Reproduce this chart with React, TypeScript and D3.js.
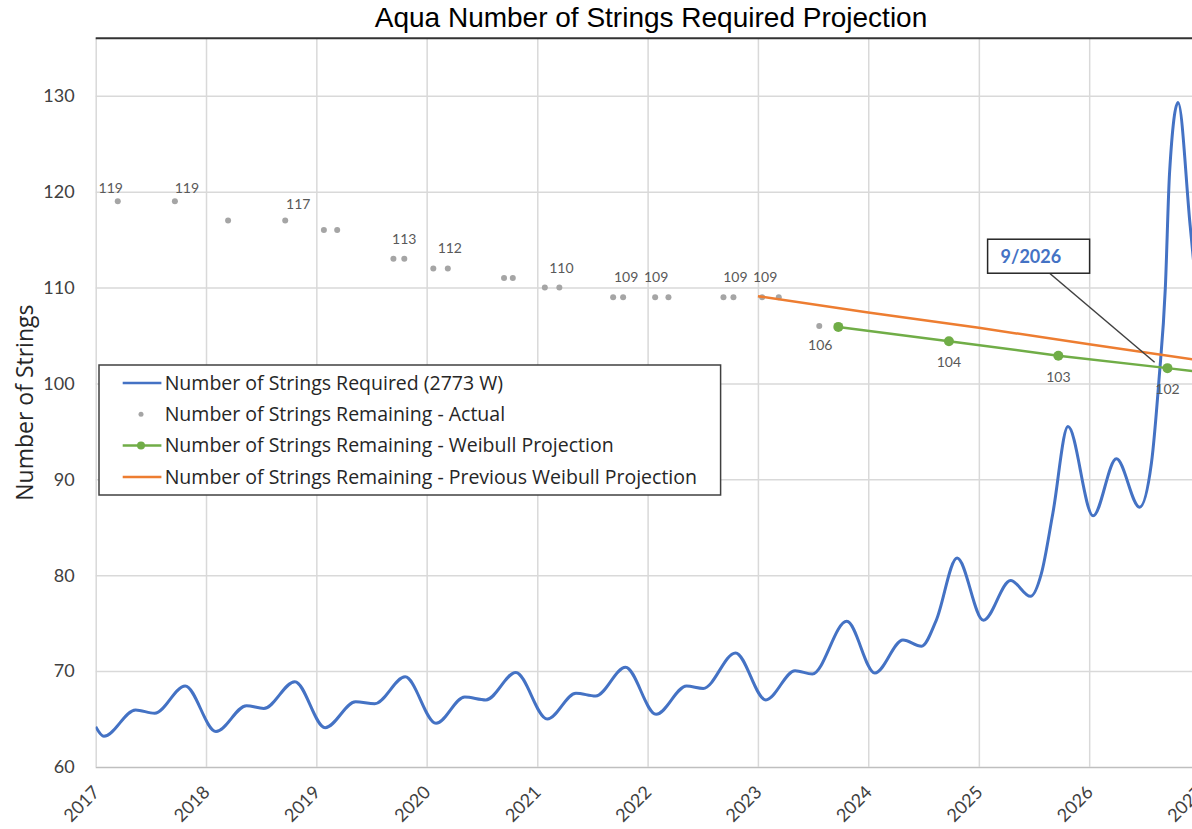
import { useRef, useEffect } from "react";
import * as d3 from "d3";

const WIDTH = 1192;
const HEIGHT = 829;

// Number of Strings Required (2773 W): turning points of the smoothed curve
const requiredDates = [
  "2017-01-01", "2017-01-28", "2017-05-13", "2017-07-15", "2017-10-24",
  "2018-02-03", "2018-05-15", "2018-07-11", "2018-10-22",
  "2019-01-30", "2019-05-11", "2019-07-13", "2019-10-22",
  "2020-02-01", "2020-05-06", "2020-07-15", "2020-10-22",
  "2021-02-03", "2021-05-09", "2021-07-13", "2021-10-20",
  "2022-01-29", "2022-05-10", "2022-07-04", "2022-10-19",
  "2023-01-27", "2023-05-04", "2023-06-30", "2023-10-22",
  "2024-01-23", "2024-04-25", "2024-06-25", "2024-08-13", "2024-10-21",
  "2025-01-16", "2025-04-16", "2025-06-21", "2025-07-27", "2025-09-03", "2025-10-23",
  "2026-01-14", "2026-04-01", "2026-06-17", "2026-07-26", "2026-08-20",
  "2026-09-10", "2026-09-24", "2026-10-22", "2026-12-01", "2027-01-20",
];
const requiredValues = [
  64.2, 63.2, 65.95, 65.6, 68.45,
  63.7, 66.4, 66.1, 68.9,
  64.1, 66.8, 66.6, 69.4,
  64.55, 67.3, 67.0, 69.85,
  65.0, 67.7, 67.4, 70.4,
  65.5, 68.45, 68.2, 71.9,
  67.0, 70.05, 69.7, 75.2,
  69.8, 73.25, 72.6, 75.3, 81.8,
  75.3, 79.45, 77.8, 80.2, 86.5, 95.5,
  86.2, 92.15, 87.1, 91.7, 100.4,
  110, 122, 129.3, 116.5, 100,
];

// Number of Strings Remaining - Actual
const actualDates = [
  "2017-03-15", "2017-09-20", "2018-03-15", "2018-09-20",
  "2019-01-26", "2019-03-11", "2019-09-13", "2019-10-19",
  "2020-01-23", "2020-03-11", "2020-09-13", "2020-10-12",
  "2021-01-26", "2021-03-15", "2021-09-09", "2021-10-12",
  "2022-01-26", "2022-03-11", "2022-09-09", "2022-10-12",
  "2023-01-15", "2023-03-11", "2023-07-23",
];
const actualValues = [
  119, 119, 117, 117,
  116, 116, 113, 113,
  112, 112, 111, 111,
  110, 110, 109, 109,
  109, 109, 109, 109,
  109, 109, 106,
];
// which actual points carry a data label, and where it sits (dx, dy)
const actualLabelIndex = [0, 1, 3, 7, 9, 13, 15, 16, 19, 20, 22];
const actualLabelOffset = [
  [-7, -13], [12, -13], [13, -16], [0, -20], [2, -20], [2, -19],
  [3, -20], [1, -20], [2, -20], [3, -20], [1, 19],
];

// Number of Strings Remaining - Weibull Projection
const weibullDates = ["2023-09-24", "2024-09-24", "2025-09-21", "2026-09-17", "2027-09-15"];
const weibullValues = [105.9, 104.4, 102.9, 101.6, 100.3];
const weibullLabelIndex = [1, 2, 3];

// Number of Strings Remaining - Previous Weibull Projection
const previousDates = ["2023-01-01", "2024-01-01", "2025-01-01", "2026-01-01", "2027-01-01"];
const previousValues = [109.1, 107.4, 105.8, 104.1, 102.4];

const yearTicks = ["2017", "2018", "2019", "2020", "2021", "2022", "2023", "2024", "2025", "2026", "2027"];
const yTicks = [60, 70, 80, 90, 100, 110, 120, 130];

const legendLabels = [
  "Number of Strings Required (2773 W)",
  "Number of Strings Remaining - Actual",
  "Number of Strings Remaining - Weibull Projection",
  "Number of Strings Remaining - Previous Weibull Projection",
];

const callout = { date: "2026-08-22", value: 101.8, text: "9/2026" };

const BLUE = "#4472c4";
const GRAY = "#a5a5a5";
const GREEN = "#70ad47";
const ORANGE = "#ed7d31";
const FONT = "Lato, 'Open Sans', sans-serif";
const WIDE_FONT = "'Open Sans', Lato, sans-serif";

type Pt = { date: Date; value: number };

export default function App() {
  const ref = useRef<SVGSVGElement | null>(null);

  useEffect(() => {
    if (!ref.current) return;
    const svg = d3.select(ref.current);
    svg.selectAll("*").remove();

    const parse = d3.timeParse("%Y-%m-%d");
    const left = 95.7;
    const x = d3
      .scaleTime()
      .domain([parse("2017-01-01")!, parse("2027-01-01")!])
      .range([left, 1199.5]);
    const y = d3.scaleLinear().domain([60, 136]).range([767, 38.3]);
    const top = y(136);
    const bottom = y(60);
    const line = d3
      .line<Pt>()
      .x((d) => x(d.date))
      .y((d) => y(d.value));

    svg.append("rect").attr("width", WIDTH).attr("height", HEIGHT).attr("fill", "#fff");

    svg
      .append("defs")
      .append("clipPath")
      .attr("id", "plot-clip")
      .append("rect")
      .attr("x", left)
      .attr("y", top - 2)
      .attr("width", WIDTH - left)
      .attr("height", bottom - top + 4);

    // title
    svg
      .append("text")
      .attr("x", 651)
      .attr("y", 26.5)
      .attr("text-anchor", "middle")
      .attr("font-family", "'Liberation Sans', Arial, sans-serif")
      .attr("font-size", 28)
      .attr("fill", "#000")
      .text("Aqua Number of Strings Required Projection");

    // y axis + horizontal grid
    svg
      .append("g")
      .attr("transform", `translate(${left},0)`)
      .call(d3.axisLeft(y).tickValues(yTicks).tickSize(-(WIDTH - left)).tickPadding(21))
      .call((g) => g.select(".domain").remove())
      .call((g) =>
        g
          .selectAll(".tick line")
          .attr("stroke", (d) => (d === 60 ? "#bfbfbf" : "#d9d9d9"))
          .attr("stroke-width", 1.5)
      )
      .call((g) =>
        g
          .selectAll(".tick text")
          .attr("font-family", FONT)
          .attr("font-size", 18)
          .attr("fill", "#404040")
      );

    // x axis + vertical grid
    const years = yearTicks.map((t) => parse(`${t}-01-01`)!);
    svg
      .append("g")
      .attr("transform", `translate(0,${bottom})`)
      .call(
        d3
          .axisBottom(x)
          .tickValues(years)
          .tickSize(-(bottom - top))
          .tickFormat((d) => d3.timeFormat("%Y")(d as Date))
      )
      .call((g) => g.select(".domain").remove())
      .call((g) => g.selectAll(".tick line").attr("stroke", "#d9d9d9").attr("stroke-width", 1.5))
      .call((g) =>
        g
          .selectAll(".tick text")
          .attr("x", 0)
          .attr("y", 0)
          .attr("dy", "0.35em")
          .attr("text-anchor", "end")
          .attr("transform", "translate(0,22) rotate(-45)")
          .attr("font-family", FONT)
          .attr("font-size", 18)
          .attr("fill", "#404040")
      );

    // top border of the plot
    svg
      .append("line")
      .attr("x1", left)
      .attr("x2", WIDTH)
      .attr("y1", top)
      .attr("y2", top)
      .attr("stroke", "#333")
      .attr("stroke-width", 2);

    // y axis title
    svg
      .append("text")
      .attr("transform", `translate(33,${(top + bottom) / 2}) rotate(-90)`)
      .attr("text-anchor", "middle")
      .attr("font-family", WIDE_FONT)
      .attr("font-size", 23)
      .attr("fill", "#262626")
      .text("Number of Strings");

    const plot = svg.append("g").attr("clip-path", "url(#plot-clip)");

    // required strings
    const required: Pt[] = requiredDates.map((d, i) => ({ date: parse(d)!, value: requiredValues[i] }));
    plot
      .append("path")
      .attr("fill", "none")
      .attr("stroke", BLUE)
      .attr("stroke-width", 3)
      .attr("d", line.curve(d3.curveMonotoneX)(required));
    line.curve(d3.curveLinear);

    // actual remaining
    const actual: Pt[] = actualDates.map((d, i) => ({ date: parse(d)!, value: actualValues[i] }));
    plot
      .append("g")
      .selectAll("circle")
      .data(actual)
      .join("circle")
      .attr("cx", (d) => x(d.date))
      .attr("cy", (d) => y(d.value))
      .attr("r", 3)
      .attr("fill", GRAY);

    plot
      .append("g")
      .attr("font-family", FONT)
      .attr("font-size", 14)
      .attr("fill", "#595959")
      .attr("text-anchor", "middle")
      .selectAll("text")
      .data(actualLabelIndex)
      .join("text")
      .attr("x", (idx, k) => x(actual[idx].date) + actualLabelOffset[k][0])
      .attr("y", (idx, k) => y(actual[idx].value) + actualLabelOffset[k][1])
      .attr("dy", "0.35em")
      .text((idx) => d3.format(".0f")(actual[idx].value));

    // weibull projection
    const weibull: Pt[] = weibullDates.map((d, i) => ({ date: parse(d)!, value: weibullValues[i] }));
    plot
      .append("path")
      .attr("fill", "none")
      .attr("stroke", GREEN)
      .attr("stroke-width", 2.5)
      .attr("d", line(weibull));
    plot
      .append("g")
      .selectAll("circle")
      .data(weibull)
      .join("circle")
      .attr("cx", (d) => x(d.date))
      .attr("cy", (d) => y(d.value))
      .attr("r", 5)
      .attr("fill", GREEN);
    plot
      .append("g")
      .attr("font-family", FONT)
      .attr("font-size", 14)
      .attr("fill", "#595959")
      .attr("text-anchor", "middle")
      .selectAll("text")
      .data(weibullLabelIndex)
      .join("text")
      .attr("x", (idx) => x(weibull[idx].date))
      .attr("y", (idx) => y(weibull[idx].value) + 21)
      .attr("dy", "0.35em")
      .text((idx) => d3.format(".0f")(weibull[idx].value));

    // previous weibull projection
    const previous: Pt[] = previousDates.map((d, i) => ({ date: parse(d)!, value: previousValues[i] }));
    plot
      .append("path")
      .attr("fill", "none")
      .attr("stroke", ORANGE)
      .attr("stroke-width", 2.5)
      .attr("d", line(previous));

    // callout
    const tx = x(parse(callout.date)!);
    const ty = y(callout.value);
    const box = { x: tx - 172, y: ty - 127, w: 102, h: 34 };
    svg
      .append("line")
      .attr("x1", box.x + 62)
      .attr("y1", box.y + box.h)
      .attr("x2", tx - 5)
      .attr("y2", ty - 4)
      .attr("stroke", "#404040")
      .attr("stroke-width", 1.5);
    svg
      .append("rect")
      .attr("x", box.x)
      .attr("y", box.y)
      .attr("width", box.w)
      .attr("height", box.h)
      .attr("fill", "#fff")
      .attr("stroke", "#262626")
      .attr("stroke-width", 1.5);
    svg
      .append("text")
      .attr("x", box.x + 13)
      .attr("y", box.y + box.h / 2)
      .attr("dy", "0.35em")
      .attr("font-family", FONT)
      .attr("font-weight", "bold")
      .attr("font-size", 18)
      .attr("fill", BLUE)
      .text(callout.text);

    // legend
    const colors = [BLUE, GRAY, GREEN, ORANGE];
    const lg = svg.append("g").attr("transform", "translate(99,365)");
    lg.append("rect")
      .attr("width", 621.6)
      .attr("height", 130)
      .attr("fill", "#fff")
      .attr("stroke", "#404040")
      .attr("stroke-width", 1.5);
    const items = lg
      .selectAll("g.item")
      .data(legendLabels.map((label, i) => ({ label, i })))
      .join("g")
      .attr("class", "item")
      .attr("transform", (d) => `translate(0,${18 + d.i * 31.3})`);
    items
      .filter((d) => d.i !== 1)
      .append("line")
      .attr("x1", 23.7)
      .attr("x2", 62.4)
      .attr("stroke", (d) => colors[d.i])
      .attr("stroke-width", 2.5);
    items
      .filter((d) => d.i === 1 || d.i === 2)
      .append("circle")
      .attr("cx", 42)
      .attr("r", (d) => (d.i === 1 ? 2.5 : 4))
      .attr("fill", (d) => colors[d.i]);
    items
      .append("text")
      .attr("x", 65.7)
      .attr("dy", "0.35em")
      .attr("font-family", WIDE_FONT)
      .attr("font-size", 19.5)
      .attr("fill", "#262626")
      .text((d) => d.label);
  }, []);

  return (
    <svg
      ref={ref}
      width={WIDTH}
      height={HEIGHT}
      style={{ position: "absolute", left: 0, top: 0, display: "block" }}
    />
  );
}
